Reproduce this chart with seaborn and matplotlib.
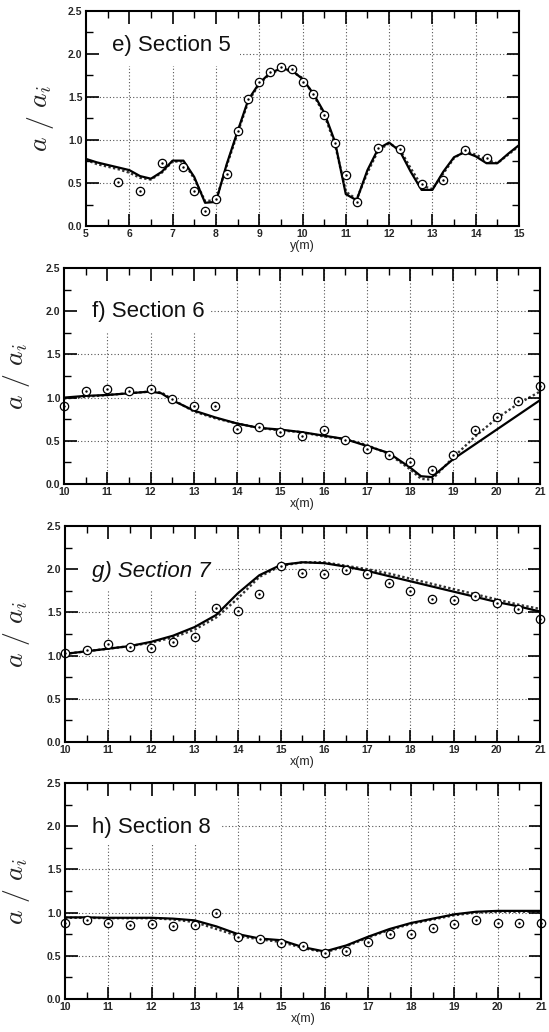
import numpy as np
import pandas as pd
import matplotlib
matplotlib.use("Agg")
import matplotlib.pyplot as plt
from matplotlib.patches import Rectangle
from matplotlib.ticker import MultipleLocator, FormatStrFormatter
import seaborn as sns

sns.set_theme(style="ticks")
plt.rcParams["font.family"] = ["Liberation Sans", "DejaVu Sans"]
plt.rcParams["mathtext.fontset"] = "cm"

# ---------------- Section 5 (across y) ----------------
e_obs_pos = [5.75, 6.25, 6.75, 7.25, 7.5, 7.75, 8.0, 8.25, 8.5, 8.75, 9.0, 9.25, 9.5,
             9.75, 10.0, 10.25, 10.5, 10.75, 11.0, 11.25, 11.75, 12.25, 12.75, 13.25,
             13.75, 14.25]
e_obs_amp = [0.51, 0.41, 0.73, 0.69, 0.41, 0.18, 0.31, 0.61, 1.10, 1.48, 1.68, 1.79, 1.85,
             1.83, 1.67, 1.53, 1.29, 0.96, 0.59, 0.28, 0.91, 0.895, 0.49, 0.54,
             0.88, 0.79]
e_model_pos = [5.0, 5.25, 5.5, 5.75, 6.0, 6.25, 6.5, 6.75, 7.0, 7.25, 7.5, 7.75, 8.0, 8.25,
               8.5, 8.75, 9.0, 9.25, 9.5, 9.75, 10.0, 10.25, 10.5, 10.75, 11.0, 11.25,
               11.5, 11.75, 12.0, 12.25, 12.5, 12.75, 13.0, 13.25, 13.5, 13.75, 14.0,
               14.25, 14.5, 14.75, 15.0]
e_solid = [0.78, 0.74, 0.71, 0.68, 0.65, 0.58, 0.55, 0.63, 0.76, 0.76, 0.57, 0.27, 0.28, 0.72,
           1.10, 1.47, 1.66, 1.78, 1.83, 1.81, 1.71, 1.54, 1.32, 0.98, 0.37, 0.30,
           0.65, 0.90, 0.97, 0.87, 0.63, 0.42, 0.42, 0.63, 0.80, 0.86, 0.81,
           0.73, 0.73, 0.84, 0.94]
e_dotted = [0.77, 0.72, 0.69, 0.66, 0.62, 0.56, 0.54, 0.62, 0.75, 0.75, 0.55, 0.29, 0.30, 0.70,
            1.08, 1.45, 1.65, 1.77, 1.82, 1.80, 1.72, 1.53, 1.30, 0.95, 0.40, 0.31,
            0.62, 0.88, 0.96, 0.89, 0.67, 0.47, 0.43, 0.61, 0.79, 0.87, 0.83,
            0.77, 0.73, 0.83, 0.93]

# ---------------- Sections 6-8 (along x) ----------------
x_obs = [10.0, 10.5, 11.0, 11.5, 12.0, 12.5, 13.0, 13.5, 14.0, 14.5, 15.0, 15.5, 16.0,
         16.5, 17.0, 17.5, 18.0, 18.5, 19.0, 19.5, 20.0, 20.5, 21.0]

f_obs_amp = [0.90, 1.08, 1.10, 1.08, 1.10, 0.98, 0.90, 0.90, 0.64, 0.66, 0.60, 0.56, 0.62,
             0.51, 0.41, 0.34, 0.25, 0.16, 0.33, 0.62, 0.77, 0.96, 1.13]
f_model_pos = [10.0, 10.5, 11.0, 11.5, 12.0, 12.25, 12.5, 13.0, 13.5, 14.0, 14.5, 15.0, 15.5,
               16.0, 16.5, 17.0, 17.5, 18.0, 18.25, 18.5, 19.0, 19.5, 20.0, 20.5, 21.0]
f_solid = [1.00, 1.02, 1.03, 1.05, 1.07, 1.05, 0.97, 0.85, 0.77, 0.70, 0.65, 0.63, 0.60,
           0.56, 0.52, 0.44, 0.36, 0.19, 0.09, 0.08, 0.29, 0.46, 0.63, 0.80, 0.97]
f_dotted = [0.99, 1.01, 1.03, 1.05, 1.07, 1.06, 0.98, 0.84, 0.76, 0.70, 0.65, 0.62, 0.60,
            0.55, 0.52, 0.45, 0.35, 0.17, 0.06, 0.05, 0.31, 0.55, 0.76, 0.93, 1.07]

g_obs_amp = [1.035, 1.06, 1.13, 1.10, 1.09, 1.16, 1.21, 1.55, 1.52, 1.71, 2.04, 1.96, 1.94,
             1.99, 1.94, 1.84, 1.75, 1.66, 1.64, 1.69, 1.61, 1.54, 1.42]
g_solid = [1.02, 1.05, 1.08, 1.11, 1.16, 1.23, 1.33, 1.47, 1.72, 1.93, 2.05, 2.08, 2.07,
           2.03, 1.98, 1.92, 1.86, 1.80, 1.74, 1.68, 1.62, 1.57, 1.51]
g_dotted = [1.02, 1.05, 1.08, 1.11, 1.15, 1.21, 1.30, 1.44, 1.66, 1.91, 2.04, 2.08, 2.08,
            2.04, 2.00, 1.95, 1.89, 1.83, 1.77, 1.71, 1.65, 1.59, 1.54]

h_obs_amp = [0.88, 0.92, 0.88, 0.86, 0.87, 0.85, 0.86, 1.00, 0.72, 0.69, 0.65, 0.61, 0.53,
             0.56, 0.66, 0.75, 0.75, 0.82, 0.87, 0.92, 0.88, 0.88, 0.885]
h_solid = [0.945, 0.945, 0.94, 0.94, 0.94, 0.93, 0.91, 0.84, 0.75, 0.70, 0.68, 0.60, 0.55,
           0.62, 0.72, 0.81, 0.88, 0.93, 0.98, 1.01, 1.02, 1.02, 1.02]
h_dotted = [0.94, 0.94, 0.935, 0.935, 0.935, 0.92, 0.89, 0.81, 0.73, 0.69, 0.66, 0.59, 0.54,
            0.61, 0.71, 0.80, 0.87, 0.92, 0.97, 1.00, 1.01, 1.01, 1.01]

panel_titles = ["e) Section 5", "f) Section 6", "g) Section 7", "h) Section 8"]
x_labels = ["y(m)", "x(m)", "x(m)", "x(m)"]

# rect = [left, top, right, bottom] in pixels; ylab_px = right edge of the y label
panels = [
    dict(obs=(e_obs_pos, e_obs_amp), solid=(e_model_pos, e_solid), dotted=(e_model_pos, e_dotted),
         xlim=(5, 15), rect=[86, 11, 519, 226], title_x=5.59, title_y=2.10, box=(8.55, 1.86),
         italic=False, ylab_px=56),
    dict(obs=(x_obs, f_obs_amp), solid=(f_model_pos, f_solid), dotted=(f_model_pos, f_dotted),
         xlim=(10, 21), rect=[64, 268, 540, 484], title_x=10.65, title_y=2.0, box=(13.4, 1.76),
         italic=False, ylab_px=32),
    dict(obs=(x_obs, g_obs_amp), solid=(x_obs, g_solid), dotted=(x_obs, g_dotted),
         xlim=(10, 21), rect=[65, 526, 540, 742], title_x=10.63, title_y=1.97, box=(13.5, 1.76),
         italic=True, ylab_px=32),
    dict(obs=(x_obs, h_obs_amp), solid=(x_obs, h_solid), dotted=(x_obs, h_dotted),
         xlim=(10, 21), rect=[65, 783, 541, 999], title_x=10.62, title_y=1.99, box=(13.6, 1.8),
         italic=False, ylab_px=32),
]

W, H = 549, 1032
fig = plt.figure(figsize=(W / 100, H / 100), dpi=100)
fig.patch.set_facecolor("white")

for p, title, xl in zip(panels, panel_titles, x_labels):
    l, t, r, b = p["rect"]
    ax = fig.add_axes([l / W, 1 - b / H, (r - l) / W, (b - t) / H])
    ax.set_facecolor("white")
    x0, x1 = p["xlim"]
    ax.set_xlim(x0, x1)
    ax.set_ylim(0, 2.5)

    # dotted grid at the major ticks
    for xv in np.arange(x0 + 1, x1, 1.0):
        ax.axvline(xv, color="#555555", lw=0.8, ls=(0, (1, 2)), zorder=0.5)
    for yv in np.arange(0.5, 2.5, 0.5):
        ax.axhline(yv, color="#555555", lw=0.8, ls=(0, (1, 2)), zorder=0.5)

    # blank area behind the panel label
    bx, by = p["box"]
    ax.add_patch(Rectangle((x0, by), bx - x0, 2.5 - by, facecolor="white",
                           edgecolor="none", zorder=0.7))

    ox, oy = p["obs"]
    sx, sy = p["solid"]
    dx, dy = p["dotted"]
    sns.lineplot(x=dx, y=dy, ax=ax, color="#333333", lw=1.7, ls=(0, (1, 1)),
                 sort=False, zorder=2)
    sns.lineplot(x=sx, y=sy, ax=ax, color="black", lw=1.6, sort=False, zorder=2.2)
    sns.scatterplot(x=ox, y=oy, ax=ax, marker="o", s=36, facecolors="white",
                    edgecolor="black", linewidth=0.9, zorder=3, clip_on=False)
    sns.scatterplot(x=ox, y=oy, ax=ax, marker="o", s=3, color="black",
                    linewidth=0, zorder=3.2, clip_on=False)

    ax.text(p["title_x"], p["title_y"], title, fontsize=16, va="center", ha="left",
            style="italic" if p["italic"] else "normal", color="#111111", zorder=4)

    ax.xaxis.set_major_locator(MultipleLocator(1))
    ax.xaxis.set_minor_locator(MultipleLocator(0.5))
    ax.yaxis.set_major_locator(MultipleLocator(0.5))
    ax.yaxis.set_minor_locator(MultipleLocator(0.25))
    ax.yaxis.set_major_formatter(FormatStrFormatter("%.1f"))
    ax.tick_params(which="both", direction="in", top=True, right=True, color="black")
    ax.tick_params(which="major", length=9, width=1.2, labelsize=7.5, pad=2.5)
    ax.tick_params(which="minor", length=5, width=1.0)
    for lab in ax.get_xticklabels() + ax.get_yticklabels():
        lab.set_fontweight("bold")
    ax.set_axisbelow(False)
    for sp in ax.spines.values():
        sp.set_linewidth(1.5)
        sp.set_color("black")
        sp.set_zorder(5)

    ax.set_xlabel(xl, fontsize=9, labelpad=0.5)
    ax.set_ylabel(r"$a\ /\ a_i$", fontsize=20, labelpad=0)
    ax.yaxis.set_label_coords(-(l - p["ylab_px"]) / (r - l), 0.5)

fig.savefig("out.png", dpi=100, facecolor="white")
